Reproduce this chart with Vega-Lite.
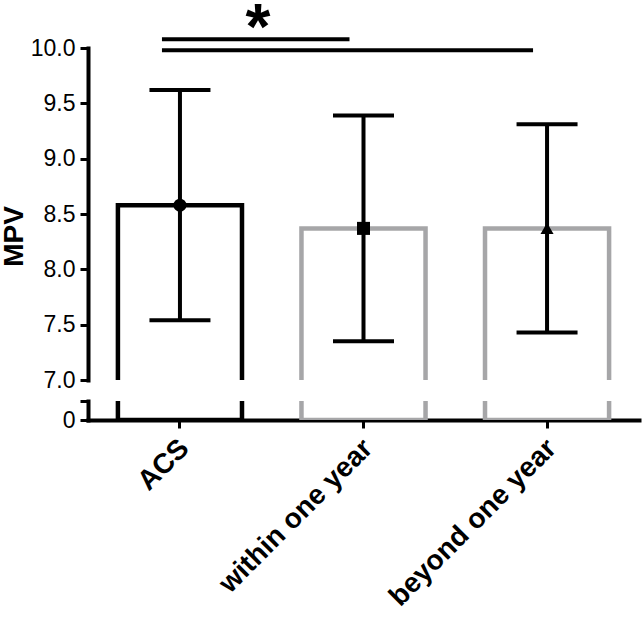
{
  "$schema": "https://vega.github.io/schema/vega-lite/v6.json",
  "padding": {"left": 0, "top": -2, "right": 5, "bottom": 5},
  "bounds": "flush",
  "spacing": 21,
  "config": {
    "view": {"stroke": null},
    "font": "Liberation Sans",
    "axis": {
      "domainColor": "black", "domainWidth": 4, "tickColor": "black", "tickWidth": 3, "tickSize": 8,
      "labelColor": "black", "labelFont": "Liberation Sans", "grid": false, "domainCap": "square", "labelLimit": 0
    }
  },
  "datasets": {
    "groups": [
      {"group": "ACS", "mean": 8.58, "low": 7.54, "high": 9.62},
      {"group": "within one year", "mean": 8.37, "low": 7.35, "high": 9.39},
      {"group": "beyond one year", "mean": 8.37, "low": 7.43, "high": 9.31}
    ],
    "sig": [
      {"from": "ACS", "to": "within one year", "p": 10.08},
      {"from": "ACS", "to": "beyond one year", "p": 9.98}
    ],
    "star": [{"group": "ACS", "p": 10.45, "label": "*"}]
  },
  "vconcat": [
    {
      "width": 551, "height": 332,
      "layer": [
        {
          "data": {"name": "groups"},
          "mark": {"type": "bar", "fill": "white", "fillOpacity": 0, "strokeWidth": 4.5, "clip": true},
          "encoding": {
            "x": {"field": "group", "type": "nominal", "sort": null,
                  "scale": {"domain": ["ACS", "within one year", "beyond one year"], "paddingInner": 0.324, "paddingOuter": 0.163},
                  "axis": null},
            "y": {"field": "mean", "type": "quantitative", "scale": {"domain": [7, 10], "zero": false, "nice": false},
                  "axis": {"values": [7, 7.5, 8, 8.5, 9, 9.5, 10], "format": ".1f", "labelFontSize": 23, "labelPadding": 5,
                           "title": "MPV", "titleFontSize": 28, "titleFontWeight": "bold", "titleColor": "black",
                           "titleY": 188, "titleX": -60}},
            "stroke": {"field": "group", "type": "nominal",
                       "scale": {"domain": ["ACS", "within one year", "beyond one year"], "range": ["black", "#a6a6a8", "#a6a6a8"]},
                       "legend": null}
          }
        },
        {
          "data": {"name": "groups"},
          "mark": {"type": "rule", "strokeWidth": 4, "color": "black"},
          "encoding": {
            "x": {"field": "group", "type": "nominal"},
            "y": {"field": "low", "type": "quantitative"},
            "y2": {"field": "high"}
          }
        },
        {
          "data": {"name": "groups"},
          "mark": {"type": "tick", "size": 61, "thickness": 4, "color": "black", "opacity": 1},
          "encoding": {
            "x": {"field": "group", "type": "nominal"},
            "y": {"field": "low", "type": "quantitative"}
          }
        },
        {
          "data": {"name": "groups"},
          "mark": {"type": "tick", "size": 61, "thickness": 4, "color": "black", "opacity": 1},
          "encoding": {
            "x": {"field": "group", "type": "nominal"},
            "y": {"field": "high", "type": "quantitative"}
          }
        },
        {
          "data": {"name": "groups"},
          "mark": {"type": "point", "filled": true, "color": "black", "opacity": 1, "size": 170},
          "encoding": {
            "x": {"field": "group", "type": "nominal"},
            "y": {"field": "mean", "type": "quantitative"},
            "shape": {"field": "group", "type": "nominal",
                      "scale": {"domain": ["ACS", "within one year", "beyond one year"], "range": ["circle", "square", "triangle-up"]},
                      "legend": null}
          }
        },
        {
          "data": {"name": "sig"},
          "mark": {"type": "rule", "strokeWidth": 4, "color": "black", "xOffset": -18, "x2Offset": -14, "clip": false},
          "encoding": {
            "x": {"field": "from", "type": "nominal"},
            "x2": {"field": "to"},
            "y": {"field": "p", "type": "quantitative"}
          }
        },
        {
          "data": {"name": "star"},
          "mark": {"type": "text", "fontSize": 64, "fontWeight": "bold", "dx": 78, "align": "center", "baseline": "top", "clip": false},
          "encoding": {
            "x": {"field": "group", "type": "nominal"},
            "y": {"field": "p", "type": "quantitative"},
            "text": {"field": "label"}
          }
        }
      ]
    },
    {
      "width": 551, "height": 19,
      "data": {"name": "groups"},
      "layer": [
        {
          "mark": {"type": "bar", "fill": "white", "fillOpacity": 0, "strokeWidth": 4.5, "clip": true},
          "encoding": {
            "x": {"field": "group", "type": "nominal", "sort": null,
                  "scale": {"domain": ["ACS", "within one year", "beyond one year"], "paddingInner": 0.324, "paddingOuter": 0.163},
                  "axis": {"title": null, "labelAngle": -45, "labelFontSize": 28, "labelFontWeight": "bold", "labelPadding": 6, "labelOffset": -5}},
            "y": {"field": "mean", "type": "quantitative", "scale": {"domain": [0, 1], "nice": false},
                  "axis": {"values": [0, 1], "labelExpr": "datum.value == 0 ? '0' : ''", "labelFontSize": 23, "labelPadding": 5, "title": null}},
            "stroke": {"field": "group", "type": "nominal",
                       "scale": {"domain": ["ACS", "within one year", "beyond one year"], "range": ["black", "#a6a6a8", "#a6a6a8"]},
                       "legend": null}
          }
        }
      ]
    }
  ]
}
